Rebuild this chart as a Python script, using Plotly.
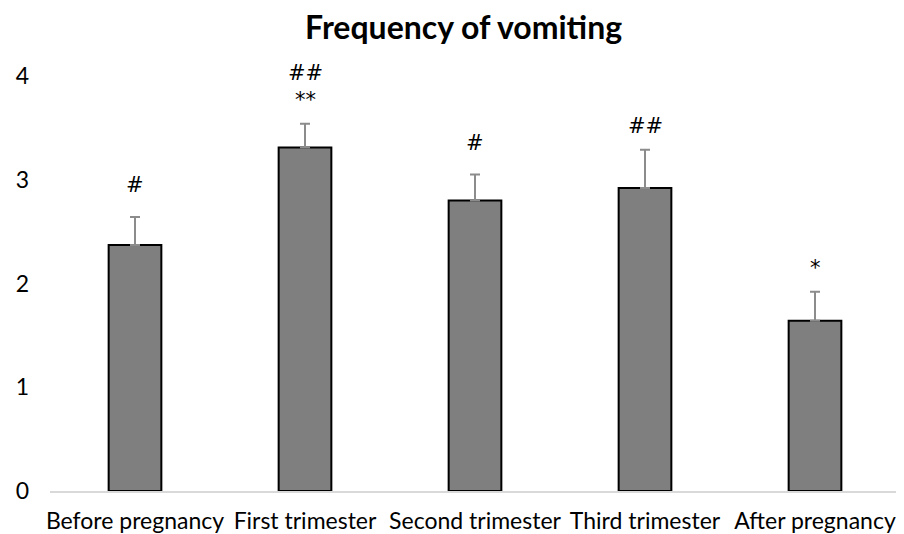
import plotly.graph_objects as go

categories = ["Before pregnancy", "First trimester", "Second trimester", "Third trimester", "After pregnancy"]
means = [2.37, 3.31, 2.80, 2.92, 1.64]
errors = [0.27, 0.23, 0.25, 0.37, 0.28]
marks = ["#", "##<br>**", "#", "##", "*"]
y_ticks = [0, 1, 2, 3, 4]

FONT = "Lato"
MARK_FONT = "DejaVu Sans"
mark_shift = [18, 10, 18, 10, 10]   # label offset above the error bar (px)

fig = go.Figure()
fig.add_trace(go.Bar(
    x=categories, y=means,
    marker=dict(color="#7f7f7f", line=dict(color="#000000", width=2)),
    width=0.31,
    error_y=dict(type="data", array=errors, symmetric=False, arrayminus=[0]*len(errors),
                 color="#8c8c8c", thickness=2, width=5),
    showlegend=False,
))

for c, m, e, t, s in zip(categories, means, errors, marks, mark_shift):
    fig.add_annotation(x=c, y=m + e, text=t, showarrow=False, yanchor="bottom",
                       yshift=s, font=dict(family=MARK_FONT, size=21, color="#000000"))

fig.update_layout(
    width=904, height=534,
    paper_bgcolor="white", plot_bgcolor="white",
    margin=dict(l=42, r=12, t=68, b=51),
    title=dict(text="<b>Frequency of vomiting</b>", x=0.504, xanchor="center", y=0.963, yanchor="middle",
               font=dict(family=FONT, size=32, color="#000000")),
    bargap=0.69,
    xaxis=dict(showline=True, linecolor="#d9d9d9", linewidth=2, showgrid=False, ticks="",
               tickangle=0, automargin=False, ticklabelstandoff=8,
               tickfont=dict(family=FONT, size=23, color="#000000")),
    yaxis=dict(range=[0, 4], tickvals=y_ticks, showgrid=False, zeroline=False, showline=False,
               ticks="", ticklabelstandoff=20, automargin=False,
               tickfont=dict(family=FONT, size=23, color="#000000")),
)

fig.write_html("out.html")
